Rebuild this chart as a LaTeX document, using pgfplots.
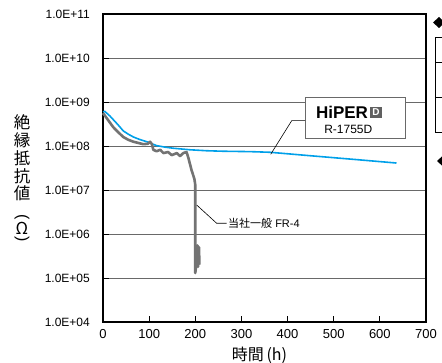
\documentclass[border=0pt]{standalone}
\usepackage{pgfplots}
\pgfplotsset{compat=1.18}
\usepackage{fontspec}
\setmainfont{Liberation Sans}
\newfontfamily\jp{Noto Sans CJK JP}
\definecolor{cblue}{RGB}{0,160,233}
\definecolor{cgray}{RGB}{115,115,115}
\definecolor{gridgray}{RGB}{105,105,105}
\begin{document}
\begin{tikzpicture}
\useasboundingbox (0pt,0pt) rectangle (442pt,362pt);
\begin{axis}[
  at={(103pt,40pt)}, anchor=south west, scale only axis,
  width=323pt, height=308pt,
  ymode=log, xmin=0, xmax=700, ymin=1e4, ymax=1e11,
  xtick={0,100,...,700},
  ytick={1e4,1e5,1e6,1e7,1e8,1e9,1e10,1e11},
  yticklabels={1.0E+04,1.0E+05,1.0E+06,1.0E+07,1.0E+08,1.0E+09,1.0E+10,1.0E+11},
  yminorticks=false,
  ymajorgrids, grid style={gridgray, line width=0.9pt},
  axis line style={black, line width=1.3pt},
  tick align=inside, xtick pos=bottom, ytick pos=left,
  major tick length=6pt,
  tick style={black, line width=0.9pt},
  /pgf/number format/assume math mode=true,
  every tick label/.append style={inner sep=0pt},
  xticklabel style={font=\fontsize{13}{15}\selectfont, yshift=-7pt},
  yticklabel style={font=\fontsize{12}{14}\selectfont, xshift=-13pt},
  clip=false,
]
\addplot[cblue, line width=1.6pt] coordinates {
(0,6.0e8) (4,6.1e8) (8,5.6e8) (15,4.8e8) (22,4.0e8) (33,3.0e8) (44,2.2e8) (55,1.85e8)
(66,1.6e8) (80,1.4e8) (95,1.25e8) (116,1.02e8) (135,0.94e8) (152,0.89e8) (189,0.82e8)
(225,0.78e8) (261,0.76e8) (319,0.745e8) (362,0.72e8) (450,0.60e8) (550,0.49e8) (636,0.41e8)
};
\addplot[cgray, line width=2.6pt, line join=round] coordinates {
(0,5.6e8) (8,4.3e8) (15,3.4e8) (22,2.7e8) (30,2.2e8) (44,1.6e8) (55,1.38e8) (66,1.25e8) (87,1.1e8)
(97,1.12e8) (102,1.25e8) (106,1.1e8) (109,0.82e8) (116,0.76e8) (124,0.82e8)
(131,0.69e8) (141,0.73e8) (149,0.62e8) (160,0.69e8) (167,0.59e8) (174,0.69e8)
(181,0.73e8) (185,0.54e8) (192,0.28e8) (198,0.18e8) (200,0.13e8) (200,1.3e5)
(203,2.5e5) (205,5.5e5) (206,1.8e5) (208,5.0e5) (209,2.0e5)
};
\end{axis}
% annotation box
\draw[gridgray, line width=1pt, fill=white] (305pt,264pt) rectangle (405.7pt,223pt);
\node[font=\fontsize{17}{18}\selectfont\bfseries, inner sep=0pt] at (342pt,249.5pt) {HiPER};
\node[fill=gray!75!black, text=white, font=\fontsize{10}{11}\selectfont\bfseries, minimum size=11.5pt, inner sep=0pt] at (376pt,249.5pt) {D};
\node[font=\fontsize{12}{13}\selectfont, inner sep=0pt] at (348.3pt,232.7pt) {R-1755D};
\draw[black, line width=0.6pt] (305pt,241.3pt) -- (291.7pt,241.3pt) -- (270.7pt,207.7pt);
% FR-4 label
\draw[black, line width=0.6pt] (196.7pt,157pt) -- (216.7pt,138.7pt) -- (226.7pt,138.7pt);
\node[anchor=west, font=\fontsize{11}{12}\selectfont, inner sep=0pt] at (228pt,138.7pt) {{\jp 当社一般} FR-4};
% y label
\foreach \c/\yy in {絶/239.5,縁/221.5,抵/204,抗/186,値/168.5,Ω/134}
  \node[font=\jp\fontsize{16.5}{17}\selectfont, inner sep=0pt] at (22pt,\yy pt) {\c};
\node[font=\fontsize{16}{17}\selectfont, inner sep=0pt, rotate=-90] at (22pt,145pt) {(};
\node[font=\fontsize{16}{17}\selectfont, inner sep=0pt, rotate=-90] at (22pt,123pt) {)};
% x label
\node[font=\jp\fontsize{16}{17}\selectfont, inner sep=0pt] at (259.5pt,7pt) {時間\,(h)};
% cut-off elements on the right
\fill[black] (433pt,339.5pt) -- (439pt,345pt) -- (445pt,339.5pt) -- (439pt,334pt) -- cycle;
\draw[black, line width=0.6pt] (435pt,325pt) rectangle (470pt,230pt);
\draw[black, line width=0.6pt] (435pt,300pt) -- (470pt,300pt);
\draw[black, line width=0.6pt] (435pt,265pt) -- (470pt,265pt);
\fill[black] (437pt,201pt) -- (443pt,206.5pt) -- (449pt,201pt) -- (443pt,195.5pt) -- cycle;
\end{tikzpicture}
\end{document}
